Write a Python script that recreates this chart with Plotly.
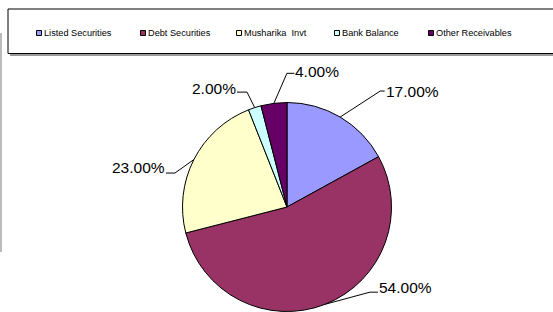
import math
import plotly.graph_objects as go

# ---- data ----
categories = ["Listed Securities", "Debt Securities", "Musharika  Invt", "Bank Balance", "Other Receivables"]
values = [17, 54, 23, 2, 4]

# ---- style ----
colors = ["#9999FF", "#993366", "#FFFFCC", "#CCFFFF", "#660066"]
W, H = 553, 312
FONT = "Arial, 'Liberation Sans', sans-serif"
CX, CY, R = 287.0, 207.0, 104.5
# leader-line style per slice: elbow offset from slice edge (dx, dy), stub length, text dy
elbow_off = [(40, -26), (44.5, -12), (-19, 13.5), (-7.7, -15.5), (13, -30)]
stub_len = [4.5, 8, -9, -10, 7.5]
text_dy = [0, -5, -5.5, -4, -1.5]
legend_x = [39, 143, 239, 337, 431]
legend_y = 33


def px(x):
    return x / W


def py(y):
    return 1 - y / H


fig = go.Figure()
fig.add_trace(go.Pie(
    values=values, labels=categories, sort=False, direction="clockwise", rotation=0,
    marker=dict(colors=colors, line=dict(color="black", width=1)),
    textinfo="none", hoverinfo="label+percent", showlegend=False,
    domain=dict(x=[px(CX - R), px(CX + R)], y=[py(CY + R), py(CY - R)]),
))

shapes = []
annotations = []
total = sum(values)
cum = 0
for i, v in enumerate(values):
    mid = (cum + v / 2) / total * 2 * math.pi
    cum += v
    ex, ey = CX + R * math.sin(mid), CY - R * math.cos(mid)
    bx, by = ex + elbow_off[i][0], ey + elbow_off[i][1]
    sx = bx + stub_len[i]
    shapes.append(dict(type="path", xref="paper", yref="paper",
                       path=f"M{px(ex)},{py(ey)} L{px(bx)},{py(by)} L{px(sx)},{py(by)}",
                       line=dict(color="black", width=1)))
    right = stub_len[i] > 0
    annotations.append(dict(
        x=px(sx + (1 if right else -1)), y=py(by + text_dy[i]), xref="paper", yref="paper",
        text=f"{v / total * 100:.2f}%", showarrow=False,
        xanchor="left" if right else "right", yanchor="middle",
        borderpad=0, borderwidth=0,
        font=dict(family=FONT, size=15.5, color="black")))

# legend frame
shapes.append(dict(type="line", xref="paper", yref="paper", x0=px(10), x1=px(553), y0=py(55), y1=py(55),
                   line=dict(color="#999999", width=2)))
shapes.append(dict(type="rect", xref="paper", yref="paper", x0=px(8), x1=px(560), y0=py(9), y1=py(53.5),
                   line=dict(color="black", width=1), fillcolor="rgba(0,0,0,0)"))
# chart-area edge on the left
shapes.append(dict(type="line", xref="paper", yref="paper", x0=px(1), x1=px(1), y0=py(33), y1=py(252),
                   line=dict(color="#BBBBBB", width=2)))

for i, name in enumerate(categories):
    x = legend_x[i]
    shapes.append(dict(type="rect", xref="paper", yref="paper",
                       x0=px(x - 2.5), x1=px(x + 2.5), y0=py(legend_y - 2.5), y1=py(legend_y + 2.5),
                       fillcolor=colors[i], line=dict(color="black", width=1)))
    annotations.append(dict(x=px(x + 3.5), y=py(legend_y), xref="paper", yref="paper", text=name,
                            showarrow=False, xanchor="left", yanchor="middle", borderpad=0,
                            font=dict(family=FONT, size=9.2, color="black")))

fig.update_layout(
    width=W, height=H, margin=dict(l=0, r=0, t=0, b=0),
    paper_bgcolor="white", plot_bgcolor="white",
    shapes=shapes, annotations=annotations, showlegend=False,
)
fig.write_html("out.html", config={"displayModeBar": False},
               post_script="document.body.style.margin='0';document.body.style.overflow='hidden';")
